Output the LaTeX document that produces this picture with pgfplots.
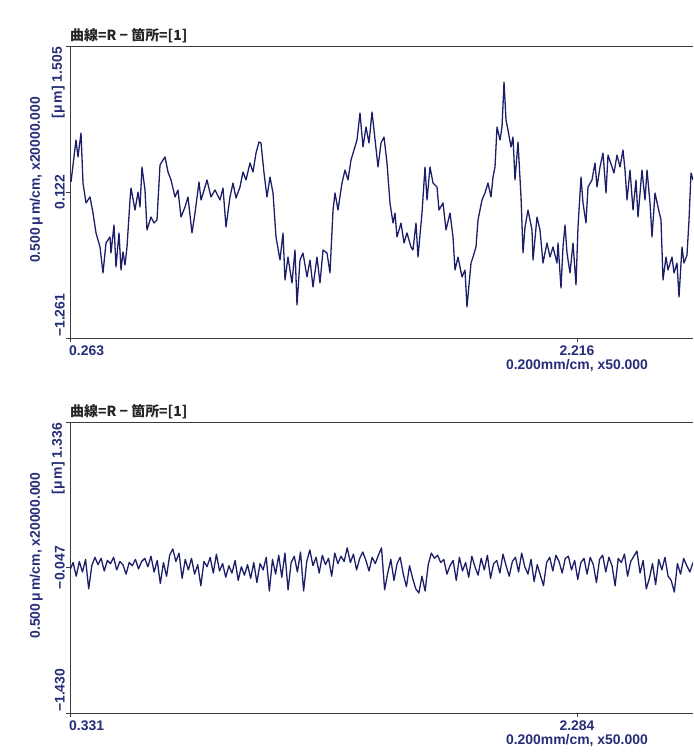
\documentclass[border=0pt]{standalone}
\usepackage{pgfplots}
\pgfplotsset{compat=1.18}
\usepackage{fontspec}
\setmainfont{Liberation Sans}
\newfontfamily\cjk{Noto Sans CJK JP}
\definecolor{curve}{RGB}{28,30,105}
\definecolor{lab}{RGB}{38,44,120}
\definecolor{frame}{RGB}{60,60,60}
\tikzset{ticklab/.style={font=\bfseries\fontsize{14}{14}\selectfont, text=lab, inner sep=1bp}}
\pgfplotsset{
  profile/.style={
    scale only axis, width=623bp, anchor=south west,
    clip mode=individual,
    axis y line*=left, axis x line*=box,
    axis line style={frame, line width=0.8bp},
    tick align=outside, major tick length=4bp,
    tick style={frame, line width=0.8bp},
    xtick pos=left, ytick pos=left,
    xticklabels={}, yticklabels={},
  },
}
\begin{document}
\begin{tikzpicture}
\path (0,0) rectangle (693bp,753bp);
% ---------------- top panel ----------------
\begin{axis}[profile, at={(70bp,415bp)}, height=292bp,
  xmin=0.263, xmax=2.6628, ymin=-1.261, ymax=1.505,
  xtick={0.263,2.216}, ytick={-1.261,0.122,1.505}]
\addplot[curve, line width=1.3bp, line join=round, mark=none] coordinates {
(0.2669,0.217)(0.2861,0.615)(0.2938,0.454)(0.3054,0.681)(0.3131,0.207)(0.3246,0.018)(0.3400,0.075)(0.3516,-0.077)
(0.3632,-0.266)(0.3786,-0.399)(0.3901,-0.645)(0.4017,-0.361)(0.4171,-0.304)(0.4209,-0.456)(0.4325,-0.191)(0.4402,-0.588)
(0.4517,-0.266)(0.4595,-0.617)(0.4672,-0.446)(0.4749,-0.570)(0.4826,-0.399)(0.4941,0.046)(0.4980,0.160)(0.5134,-0.049)
(0.5249,0.122)(0.5326,-0.020)(0.5403,0.359)(0.5519,0.141)(0.5596,-0.238)(0.5750,-0.115)(0.5866,-0.172)(0.5981,-0.143)
(0.6097,0.378)(0.6212,0.425)(0.6289,0.454)(0.6405,0.311)(0.6521,0.236)(0.6675,0.075)(0.6790,0.141)(0.6906,-0.115)
(0.7060,-0.020)(0.7175,0.075)(0.7329,-0.266)(0.7445,-0.077)(0.7599,0.217)(0.7676,0.046)(0.7830,0.169)(0.7907,0.236)
(0.8061,0.075)(0.8215,0.141)(0.8408,0.046)(0.8524,0.160)(0.8639,-0.210)(0.8793,0.075)(0.8909,0.207)(0.9024,0.065)
(0.9178,0.169)(0.9294,0.311)(0.9410,0.236)(0.9564,0.397)(0.9679,0.311)(0.9795,0.491)(0.9910,0.596)(0.9987,0.586)
(1.0103,0.302)(1.0218,0.075)(1.0334,0.264)(1.0450,0.113)(1.0565,-0.304)(1.0719,-0.522)(1.0835,-0.266)(1.0912,-0.712)
(1.1027,-0.494)(1.1181,-0.740)(1.1297,-0.427)(1.1374,-0.948)(1.1490,-0.522)(1.1605,-0.456)(1.1759,-0.683)(1.1875,-0.522)
(1.1990,-0.778)(1.2144,-0.494)(1.2260,-0.740)(1.2376,-0.427)(1.2530,-0.456)(1.2645,-0.645)(1.2761,-0.049)(1.2838,0.113)
(1.2953,-0.049)(1.3107,0.207)(1.3223,0.330)(1.3339,0.236)(1.3454,0.425)(1.3570,0.520)(1.3685,0.615)(1.3801,0.870)
(1.3916,0.548)(1.4032,0.738)(1.4147,0.586)(1.4263,0.880)(1.4340,0.709)(1.4494,0.359)(1.4610,0.586)(1.4725,0.643)
(1.4841,0.397)(1.4956,0.018)(1.5072,-0.172)(1.5149,-0.077)(1.5226,-0.304)(1.5380,-0.172)(1.5496,-0.361)(1.5611,-0.266)
(1.5765,-0.399)(1.5842,-0.427)(1.5958,-0.172)(1.6035,-0.494)(1.6189,-0.077)(1.6305,0.359)(1.6382,0.046)(1.6497,0.359)
(1.6613,0.207)(1.6767,0.169)(1.6844,-0.049)(1.6998,0.018)(1.7114,-0.238)(1.7268,-0.077)(1.7383,-0.304)(1.7460,-0.617)
(1.7576,-0.494)(1.7730,-0.683)(1.7845,-0.617)(1.7922,-0.967)(1.8077,-0.551)(1.8154,-0.494)(1.8269,-0.399)(1.8346,-0.143)
(1.8500,0.046)(1.8616,0.113)(1.8731,0.207)(1.8847,0.075)(1.8924,0.264)(1.9001,0.359)(1.9078,0.738)(1.9194,0.615)
(1.9271,0.738)(1.9348,1.164)(1.9425,0.804)(1.9502,0.709)(1.9617,0.548)(1.9694,0.643)(1.9771,0.236)(1.9887,0.596)
(2.0003,0.075)(2.0080,-0.456)(2.0157,-0.210)(2.0272,-0.049)(2.0426,-0.238)(2.0465,-0.522)(2.0619,-0.115)(2.0734,-0.238)
(2.0850,-0.551)(2.1004,-0.361)(2.1120,-0.494)(2.1235,-0.399)(2.1389,-0.551)(2.1428,-0.361)(2.1543,-0.787)(2.1620,-0.399)
(2.1697,-0.191)(2.1774,-0.456)(2.1890,-0.645)(2.2006,-0.361)(2.2121,-0.759)(2.2198,-0.210)(2.2314,0.264)(2.2391,0.018)
(2.2506,-0.172)(2.2583,0.169)(2.2737,0.236)(2.2853,0.397)(2.2930,0.169)(2.3046,0.359)(2.3161,0.491)(2.3277,0.113)
(2.3354,0.472)(2.3508,0.359)(2.3585,0.302)(2.3700,0.472)(2.3816,0.359)(2.3932,0.520)(2.4009,0.330)(2.4086,0.046)
(2.4201,0.330)(2.4317,-0.049)(2.4432,0.236)(2.4509,-0.115)(2.4663,0.330)(2.4779,0.046)(2.4856,0.330)(2.4972,0.018)
(2.5049,-0.304)(2.5164,0.113)(2.5280,-0.020)(2.5395,-0.143)(2.5472,-0.712)(2.5588,-0.494)(2.5665,-0.617)(2.5819,-0.494)
(2.5896,-0.645)(2.6012,-0.551)(2.6089,-0.873)(2.6204,-0.399)(2.6281,-0.551)(2.6397,-0.475)(2.6474,-0.143)(2.6551,0.302)
(2.6628,0.236)
};
\node[anchor=south west, inner sep=0pt, yshift=3bp, text=black!85, font=\cjk\bfseries\fontsize{14}{14}\selectfont] at (rel axis cs:0,1) {曲線=R − 箇所=[1]};
\node[ticklab, xshift=-4bp, rotate=90, anchor=south east] at (axis cs:0.263,1.505) {[μ\,m] 1.505};
\node[ticklab, xshift=-4bp, rotate=90, anchor=south] at (axis cs:0.263,0.122) {0.122};
\node[ticklab, xshift=-4bp, rotate=90, anchor=south west] at (axis cs:0.263,-1.261) {−1.261};
\node[ticklab, xshift=-26bp, yshift=12bp, rotate=90, anchor=south] at (rel axis cs:0,0.5) {0.500\,μ\,m/cm, x20000.000};
\node[ticklab, anchor=north west, yshift=-7bp, xshift=-2bp] at (axis cs:0.263,-1.261) {0.263};
\node[ticklab, anchor=north, yshift=-7bp, align=center] at (axis cs:2.216,-1.261) {2.216\\0.200mm/cm, x50.000};
\end{axis}
% ---------------- bottom panel ----------------
\begin{axis}[profile, at={(70bp,40bp)}, height=291bp,
  xmin=0.331, xmax=2.731, ymin=-1.430, ymax=1.336,
  xtick={0.331,2.284}, ytick={-1.430,-0.047,1.336}]
\addplot[curve, line width=1.3bp, line join=round, mark=none] coordinates {
(0.331,-0.07)(0.343,0.00)(0.355,-0.13)(0.367,0.01)(0.379,-0.09)(0.391,0.03)(0.403,-0.25)(0.415,-0.03)(0.427,0.05)(0.439,-0.02)
(0.451,0.04)(0.463,-0.08)(0.475,0.02)(0.487,-0.01)(0.499,0.05)(0.511,-0.07)(0.523,0.01)(0.535,-0.02)(0.547,-0.11)(0.559,0.00)
(0.571,-0.03)(0.583,0.03)(0.595,-0.06)(0.607,0.01)(0.619,0.04)(0.631,-0.04)(0.643,0.06)(0.655,-0.09)(0.667,0.02)(0.679,-0.20)
(0.691,0.00)(0.703,-0.13)(0.715,0.07)(0.727,0.13)(0.739,0.01)(0.751,0.09)(0.763,-0.15)(0.775,0.03)(0.787,-0.07)(0.799,0.04)
(0.811,-0.11)(0.823,-0.02)(0.835,-0.22)(0.847,0.01)(0.859,-0.04)(0.871,0.05)(0.883,-0.10)(0.895,0.08)(0.907,-0.08)(0.919,-0.01)
(0.931,-0.14)(0.943,-0.03)(0.955,-0.10)(0.967,0.02)(0.979,-0.17)(0.991,-0.04)(1.003,-0.12)(1.015,-0.02)(1.027,-0.15)(1.039,0.00)
(1.051,-0.19)(1.063,-0.01)(1.075,-0.07)(1.087,0.05)(1.099,-0.27)(1.111,0.03)(1.123,-0.11)(1.135,0.07)(1.147,-0.14)(1.159,0.09)
(1.171,-0.26)(1.183,0.00)(1.195,0.06)(1.207,-0.09)(1.219,0.10)(1.231,-0.27)(1.243,0.01)(1.255,0.12)(1.267,-0.03)(1.279,0.05)
(1.291,-0.10)(1.303,0.07)(1.315,-0.02)(1.327,0.04)(1.339,-0.13)(1.351,0.09)(1.363,-0.01)(1.375,0.06)(1.387,0.01)(1.399,0.14)
(1.411,0.00)(1.423,0.08)(1.435,-0.07)(1.447,0.04)(1.459,0.10)(1.471,0.02)(1.483,-0.08)(1.495,0.05)(1.507,-0.01)(1.519,0.07)
(1.531,0.14)(1.543,-0.26)(1.555,-0.10)(1.567,0.03)(1.579,-0.17)(1.591,-0.01)(1.603,0.05)(1.615,-0.11)(1.627,-0.23)(1.639,-0.03)
(1.651,-0.15)(1.663,-0.25)(1.675,-0.29)(1.687,-0.13)(1.699,-0.27)(1.711,-0.02)(1.723,0.09)(1.735,0.04)(1.747,0.07)(1.759,0.00)
(1.771,0.03)(1.783,-0.11)(1.795,-0.03)(1.807,0.02)(1.819,-0.17)(1.831,0.05)(1.843,-0.08)(1.855,0.00)(1.867,-0.14)(1.879,0.06)
(1.891,-0.04)(1.903,-0.12)(1.915,0.04)(1.927,-0.07)(1.939,0.07)(1.951,-0.15)(1.963,-0.01)(1.975,0.02)(1.987,-0.10)(1.999,0.08)
(2.011,-0.03)(2.023,-0.13)(2.035,0.01)(2.047,0.05)(2.059,-0.09)(2.071,0.09)(2.083,-0.04)(2.095,-0.11)(2.107,0.03)(2.119,-0.18)
(2.131,-0.02)(2.143,-0.12)(2.155,-0.22)(2.167,0.00)(2.179,0.05)(2.191,-0.08)(2.203,0.07)(2.215,0.01)(2.227,-0.10)(2.239,0.04)
(2.251,0.06)(2.263,-0.07)(2.275,0.02)(2.287,-0.16)(2.299,0.00)(2.311,0.04)(2.323,-0.11)(2.335,0.05)(2.347,-0.02)(2.359,-0.19)
(2.371,0.03)(2.383,0.07)(2.395,-0.09)(2.407,0.05)(2.419,-0.03)(2.431,-0.22)(2.443,0.04)(2.455,0.00)(2.467,0.08)(2.479,-0.13)
(2.491,0.01)(2.503,0.06)(2.515,0.11)(2.527,-0.10)(2.539,0.02)(2.551,-0.25)(2.563,-0.15)(2.575,-0.01)(2.587,-0.21)(2.599,0.03)
(2.611,-0.07)(2.623,0.05)(2.635,-0.13)(2.647,-0.17)(2.659,-0.28)(2.671,-0.01)(2.683,-0.11)(2.695,0.04)(2.707,-0.03)(2.719,-0.09)
(2.731,0.00)
};
\node[anchor=south west, inner sep=0pt, yshift=3bp, text=black!85, font=\cjk\bfseries\fontsize{14}{14}\selectfont] at (rel axis cs:0,1) {曲線=R − 箇所=[1]};
\node[ticklab, xshift=-4bp, rotate=90, anchor=south east] at (axis cs:0.331,1.336) {[μ\,m] 1.336};
\node[ticklab, xshift=-4bp, rotate=90, anchor=south] at (axis cs:0.331,-0.047) {−0.047};
\node[ticklab, xshift=-4bp, rotate=90, anchor=south west] at (axis cs:0.331,-1.430) {−1.430};
\node[ticklab, xshift=-26bp, yshift=12bp, rotate=90, anchor=south] at (rel axis cs:0,0.5) {0.500\,μ\,m/cm, x20000.000};
\node[ticklab, anchor=north west, yshift=-7bp, xshift=-2bp] at (axis cs:0.331,-1.430) {0.331};
\node[ticklab, anchor=north, yshift=-7bp, align=center] at (axis cs:2.284,-1.430) {2.284\\0.200mm/cm, x50.000};
\end{axis}
\end{tikzpicture}
\end{document}
